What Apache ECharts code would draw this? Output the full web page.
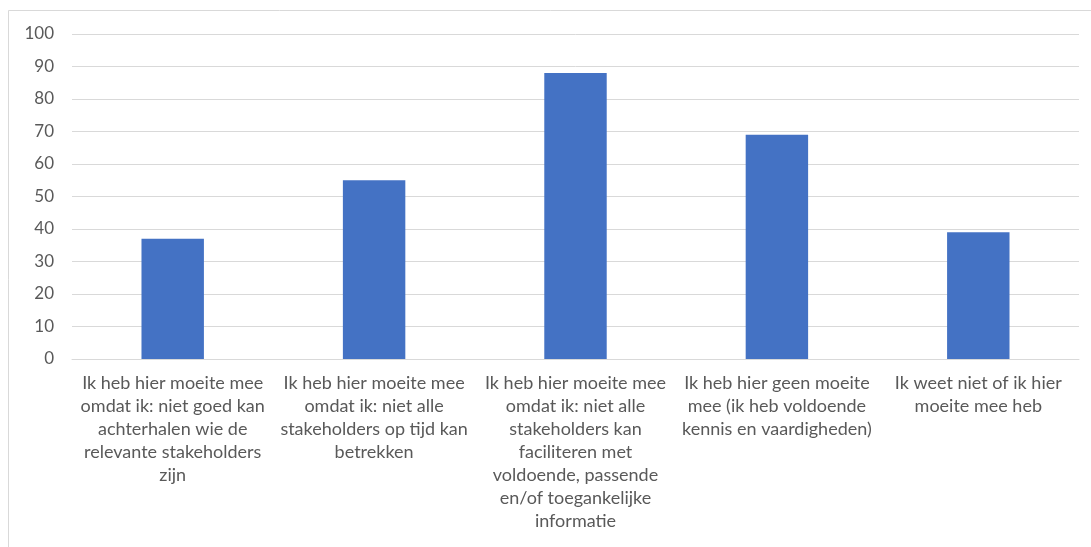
<!DOCTYPE html>
<html>
<head>
<meta charset="utf-8">
<script src="https://cdn.jsdelivr.net/npm/echarts@6/dist/echarts.min.js"></script>
<style>html,body{margin:0;padding:0;background:#fff;}#c{width:1091px;height:547px;}</style>
</head>
<body>
<div id="c"></div>
<script>
const categories = [
  "Ik heb hier moeite mee\nomdat ik: niet goed kan\nachterhalen wie de\nrelevante stakeholders\nzijn",
  "Ik heb hier moeite mee\nomdat ik: niet alle\nstakeholders op tijd kan\nbetrekken",
  "Ik heb hier moeite mee\nomdat ik: niet alle\nstakeholders kan\nfaciliteren met\nvoldoende, passende\nen/of toegankelijke\ninformatie",
  "Ik heb hier geen moeite\nmee (ik heb voldoende\nkennis en vaardigheden)",
  "Ik weet niet of ik hier\nmoeite mee heb"
];
const values = [37, 55, 88, 69, 39];
const yTicks = [0, 10, 20, 30, 40, 50, 60, 70, 80, 90, 100];

const chart = echarts.init(document.getElementById('c'), null, {renderer: 'canvas'});
chart.setOption({
  animation: false,
  backgroundColor: '#ffffff',
  graphic: [{
    type: 'rect',
    shape: {x: 8.5, y: 10.5, width: 1100, height: 600},
    style: {fill: 'none', stroke: '#d9d9d9', lineWidth: 1},
    silent: true
  }],
  grid: {left: 72, right: 12, top: 34, bottom: 188, containLabel: false},
  xAxis: {
    type: 'category',
    data: categories,
    axisLine: {show: true, lineStyle: {color: '#d9d9d9', width: 1}},
    axisTick: {show: false},
    axisLabel: {
      interval: 0,
      color: '#595959',
      fontFamily: 'Lato',
      fontSize: 18,
      lineHeight: 23,
      margin: 13,
      align: 'center'
    }
  },
  yAxis: {
    type: 'value',
    min: yTicks[0],
    max: yTicks[yTicks.length - 1],
    interval: 10,
    axisLine: {show: false},
    axisTick: {show: false},
    splitLine: {lineStyle: {color: '#d9d9d9', width: 1}},
    axisLabel: {color: '#595959', fontFamily: 'Lato', fontSize: 17, margin: 18}
  },
  series: [{
    type: 'bar',
    data: values,
    barWidth: '31%',
    itemStyle: {color: '#4472c4'}
  }]
});
</script>
</body>
</html>
